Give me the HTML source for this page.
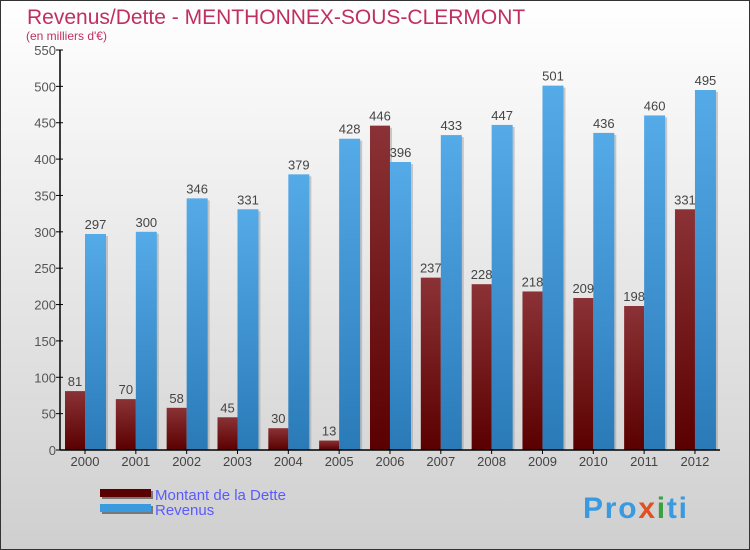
<!DOCTYPE html>
<html><head><meta charset="utf-8"><style>
body{margin:0;}
#wrap{width:750px;height:550px;position:relative;overflow:hidden;}
svg{display:block;font-family:"Liberation Sans",sans-serif;}
</style></head><body>
<div id="wrap">
<svg id="chart" width="750" height="550">
<defs>
<linearGradient id="bg" x1="0" y1="0" x2="0" y2="1"><stop offset="0" stop-color="#ffffff"/><stop offset="1" stop-color="#cfcfcf"/></linearGradient>
<linearGradient id="gd" x1="0" y1="0" x2="0" y2="1"><stop offset="0" stop-color="#8b3236"/><stop offset="1" stop-color="#5a0000"/></linearGradient>
<linearGradient id="gr" x1="0" y1="0" x2="0" y2="1"><stop offset="0" stop-color="#55aae8"/><stop offset="1" stop-color="#2a7ab8"/></linearGradient>
</defs>
<rect x="0.5" y="0.5" width="749" height="549" fill="url(#bg)" stroke="#333"/>
<text x="27" y="24" font-size="21" fill="#c0305f">Revenus/Dette - MENTHONNEX-SOUS-CLERMONT</text>
<text x="26" y="40" font-size="12" fill="#c0305f">(en milliers d'€)</text>
<g id="plot"></g>
<g>
<rect x="102" y="491" width="51" height="8" fill="#777"/>
<rect x="100" y="489" width="51" height="8" fill="#5a0000"/>
<text x="155" y="500" font-size="15" fill="#5a5aff">Montant de la Dette</text>
<rect x="102" y="506" width="51" height="8" fill="#777"/>
<rect x="100" y="504" width="51" height="8" fill="#3a9ae0"/>
<text x="155" y="515" font-size="15" fill="#5a5aff">Revenus</text>
</g>
<text x="583" y="518" font-size="30" font-weight="bold" fill="#3a9ae0" textLength="104">Pro<tspan fill="#e05020">x</tspan><tspan fill="#3aa040">i</tspan>ti</text>
</svg>
</div>
<script>
const categories=["2000","2001","2002","2003","2004","2005","2006","2007","2008","2009","2010","2011","2012"];
const detteValues=[81,70,58,45,30,13,446,237,228,218,209,198,331];
const revenusValues=[297,300,346,331,379,428,396,433,447,501,436,460,495];
const yTicks=[0,50,100,150,200,250,300,350,400,450,500,550];
const NS="http://www.w3.org/2000/svg";
const g=document.getElementById('plot');
const x0=60,step=50.83,yBase=450,yTop=50,yMax=550;
function y(v){return yBase-(v/yMax)*(yBase-yTop);}
function xc(i){return 85+i*step;}
function mk(t,a){const e=document.createElementNS(NS,t);for(const k in a)e.setAttribute(k,a[k]);g.appendChild(e);return e;}
yTicks.forEach(v=>{
  const l=mk('line',{x1:x0-4,x2:x0+3,y1:y(v),y2:y(v),stroke:'#000'});
  
  
  const t=mk('text',{x:x0-4,y:y(v)+5,'font-size':13,fill:'#555','text-anchor':'end'});
  t.textContent=v;
  
  
});
categories.forEach((c,i)=>{
  const cx=xc(i);
  const s1=mk('rect',{x:cx-20+2,y:y(detteValues[i])+2,width:20,height:yBase-y(detteValues[i])-2,fill:'#999',opacity:0.5});
  
  
  const s2=mk('rect',{x:cx+2,y:y(revenusValues[i])+2,width:21,height:yBase-y(revenusValues[i])-2,fill:'#999',opacity:0.5});
  
  
  const b1=mk('rect',{x:cx-20,y:y(detteValues[i]),width:20,height:yBase-y(detteValues[i]),fill:'url(#gd)'});
  
  
  const b2=mk('rect',{x:cx,y:y(revenusValues[i]),width:21,height:yBase-y(revenusValues[i]),fill:'url(#gr)'});
  
  
  const t1=mk('text',{x:cx-10,y:y(detteValues[i])-5,'font-size':13,fill:'#444','text-anchor':'middle'});
  t1.textContent=detteValues[i];
  
  
  const t2=mk('text',{x:cx+10.5,y:y(revenusValues[i])-5,'font-size':13,fill:'#444','text-anchor':'middle'});
  t2.textContent=revenusValues[i];
  
  
  const tk=mk('line',{x1:cx,x2:cx,y1:yBase,y2:yBase+4,stroke:'#000'});
  
  
  const xl=mk('text',{x:cx,y:yBase+16,'font-size':13,fill:'#444','text-anchor':'middle'});
  xl.textContent=c;
  
  
});
const ya=mk('line',{x1:x0,x2:x0,y1:yTop,y2:yBase,stroke:'#000','stroke-width':1.5});


const xa=mk('line',{x1:x0,x2:720,y1:yBase,y2:yBase,stroke:'#000','stroke-width':1.5});


</script>
</body></html>
